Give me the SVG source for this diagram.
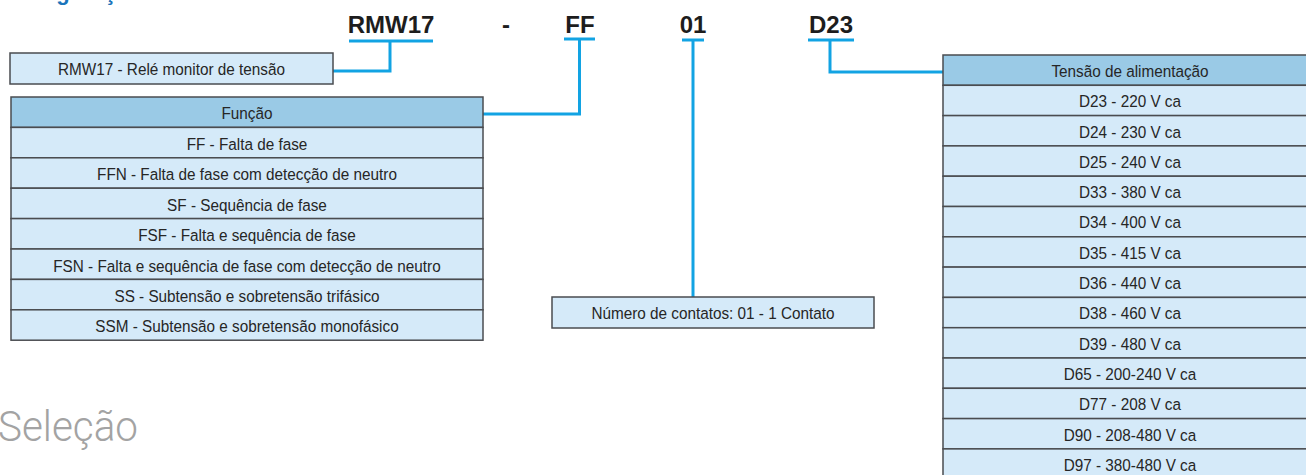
<svg xmlns="http://www.w3.org/2000/svg" width="1306" height="475" viewBox="0 0 1306 475">
<style>
.cell{fill:#d5eaf9;stroke:#4a4c50;stroke-width:1.5}
.head{fill:#9acae6;stroke:#4a4c50;stroke-width:1.5}
.t{font-family:"Liberation Sans",Arial,sans-serif;font-size:17px;fill:#262626;text-anchor:middle;transform-box:fill-box;transform-origin:center;transform:scaleX(.9)}
.code{font-family:"Liberation Sans",Arial,sans-serif;font-size:24px;font-weight:bold;fill:#1d1d1d;text-anchor:middle}
.con{fill:none;stroke:#12a3e3;stroke-width:3}
</style>
<text x="0" y="0" font-family="Liberation Sans, Arial, sans-serif" font-size="22" font-weight="bold" fill="#1b75bb">Configuração</text>
<text x="-2" y="441" font-family="Roboto, Liberation Sans, sans-serif" font-size="43" font-weight="300" fill="#a3a3a3" textLength="140" lengthAdjust="spacingAndGlyphs">Seleção</text>

<g id="codes">
<text class="code" x="391" y="33">RMW17</text>
<text class="code" x="506" y="33">-</text>
<text class="code" x="580" y="33">FF</text>
<text class="code" x="693" y="33">01</text>
<text class="code" x="831" y="33">D23</text>
</g>

<g id="connectors">
<path class="con" d="M349 41H433M390 41V71H333"/>
<path class="con" d="M564 39H595M579.5 39V114H483"/>
<path class="con" d="M682 40H704M693 40V297"/>
<path class="con" d="M808 40H854M830 40V72H943"/>
</g>

<g id="rmw17-box">
<rect class="cell" x="10" y="53" width="323" height="31"/>
<text class="t" x="171.5" y="75">RMW17 - Relé monitor de tensão</text>
</g>

<g id="funcao">
<rect class="head" x="11" y="97" width="472" height="30.4"/>
<text class="t" x="247" y="119">Função</text>
<rect class="cell" x="11" y="127.4" width="472" height="30.4"/>
<text class="t" x="247" y="150">FF - Falta de fase</text>
<rect class="cell" x="11" y="157.8" width="472" height="30.4"/>
<text class="t" x="247" y="180.4">FFN - Falta de fase com detecção de neutro</text>
<rect class="cell" x="11" y="188.2" width="472" height="30.4"/>
<text class="t" x="247" y="210.8">SF - Sequência de fase</text>
<rect class="cell" x="11" y="218.6" width="472" height="30.4"/>
<text class="t" x="247" y="241.2">FSF - Falta e sequência de fase</text>
<rect class="cell" x="11" y="249" width="472" height="30.4"/>
<text class="t" x="247" y="271.6">FSN - Falta e sequência de fase com detecção de neutro</text>
<rect class="cell" x="11" y="279.4" width="472" height="30.4"/>
<text class="t" x="247" y="302">SS - Subtensão e sobretensão trifásico</text>
<rect class="cell" x="11" y="309.8" width="472" height="30.4"/>
<text class="t" x="247" y="332.4">SSM - Subtensão e sobretensão monofásico</text>
</g>

<g id="contatos">
<rect class="cell" x="552" y="297" width="322" height="31"/>
<text class="t" x="713" y="319">Número de contatos: 01 - 1 Contato</text>
</g>

<g id="tensao">
<rect class="head" x="943" y="55" width="374" height="30.3"/>
<text class="t" x="1130" y="77">Tensão de alimentação</text>
<rect class="cell" x="943" y="85.3" width="374" height="30.3"/>
<text class="t" x="1130" y="107.3">D23 - 220 V ca</text>
<rect class="cell" x="943" y="115.6" width="374" height="30.3"/>
<text class="t" x="1130" y="137.6">D24 - 230 V ca</text>
<rect class="cell" x="943" y="145.9" width="374" height="30.3"/>
<text class="t" x="1130" y="167.9">D25 - 240 V ca</text>
<rect class="cell" x="943" y="176.2" width="374" height="30.3"/>
<text class="t" x="1130" y="198.2">D33 - 380 V ca</text>
<rect class="cell" x="943" y="206.5" width="374" height="30.3"/>
<text class="t" x="1130" y="228.5">D34 - 400 V ca</text>
<rect class="cell" x="943" y="236.8" width="374" height="30.3"/>
<text class="t" x="1130" y="258.8">D35 - 415 V ca</text>
<rect class="cell" x="943" y="267.1" width="374" height="30.3"/>
<text class="t" x="1130" y="289.1">D36 - 440 V ca</text>
<rect class="cell" x="943" y="297.4" width="374" height="30.3"/>
<text class="t" x="1130" y="319.4">D38 - 460 V ca</text>
<rect class="cell" x="943" y="327.7" width="374" height="30.3"/>
<text class="t" x="1130" y="349.7">D39 - 480 V ca</text>
<rect class="cell" x="943" y="358" width="374" height="30.3"/>
<text class="t" x="1130" y="380">D65 - 200-240 V ca</text>
<rect class="cell" x="943" y="388.3" width="374" height="30.3"/>
<text class="t" x="1130" y="410.3">D77 - 208 V ca</text>
<rect class="cell" x="943" y="418.6" width="374" height="30.3"/>
<text class="t" x="1130" y="440.6">D90 - 208-480 V ca</text>
<rect class="cell" x="943" y="448.9" width="374" height="30.3"/>
<text class="t" x="1130" y="470.9">D97 - 380-480 V ca</text>
</g>
</svg>
